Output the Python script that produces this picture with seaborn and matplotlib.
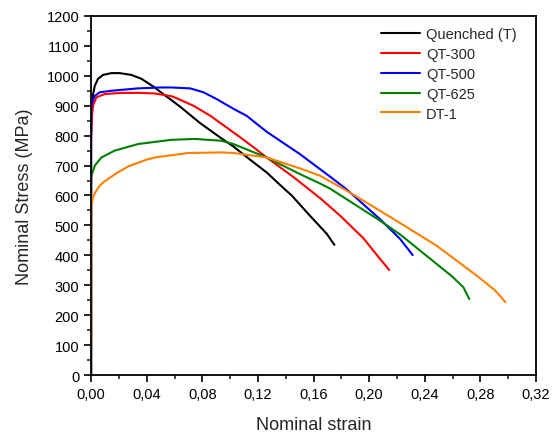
import matplotlib
matplotlib.use("Agg")
import matplotlib.pyplot as plt
from matplotlib.ticker import MultipleLocator, FixedLocator
import seaborn as sns
import pandas as pd

series_names = ["Quenched (T)", "QT-300", "QT-500", "QT-625", "DT-1"]
series_colors = ["#000000", "#ff0000", "#0000ff", "#008000", "#ff8000"]

quenched_x = [0, 0, 0.0005, 0.0015, 0.0027, 0.005, 0.0086, 0.0146, 0.0206, 0.029, 0.0362,
              0.0458, 0.0496, 0.0577, 0.064, 0.0784, 0.0928, 0.1023, 0.1143, 0.1263, 0.1383,
              0.1443, 0.1575, 0.1695, 0.175]
quenched_y = [0, 800, 890, 940, 967, 990, 1003, 1009, 1009, 1003, 990,
              961, 947, 919, 897, 842, 794, 764, 720, 677, 625,
              600, 532, 472, 435]

qt300_x = [0, 0, 0.0005, 0.0014, 0.0038, 0.0098, 0.0218, 0.035, 0.0458, 0.0577, 0.0616,
           0.0736, 0.0856, 0.1071, 0.118, 0.1263, 0.146, 0.165, 0.1719, 0.179, 0.1959,
           0.2078, 0.212, 0.2143]
qt300_y = [0, 780, 860, 900, 928, 939, 943, 943, 941, 932, 925,
           900, 867, 795, 757, 727, 660, 590, 562, 533, 457,
           388, 365, 351]

qt500_x = [0, 0, 0.0003, 0.0007, 0.0027, 0.0063, 0.0146, 0.0338, 0.0496, 0.0577, 0.0712,
           0.0808, 0.0904, 0.1023, 0.112, 0.1263, 0.150, 0.1719, 0.1839, 0.2078, 0.2222,
           0.2313]
qt500_y = [0, 860, 895, 911, 933, 945, 950, 958, 961, 961, 958,
           945, 922, 890, 866, 813, 739, 663, 620, 521, 455,
           401]

qt625_x = [0, 0, 0.0002, 0.0027, 0.0074, 0.017, 0.0338, 0.0577, 0.0746, 0.0937, 0.1023,
           0.1263, 0.150, 0.1647, 0.1719, 0.2078, 0.2222, 0.2486, 0.26, 0.2678, 0.272]
qt625_y = [0, 640, 666, 700, 727, 750, 772, 786, 789, 783, 772,
           727, 672, 640, 623, 516, 470, 371, 328, 293, 254]

dt1_x = [0, 0, 0.0014, 0.003, 0.006, 0.009, 0.0137, 0.0185, 0.0266, 0.04, 0.0458,
         0.0698, 0.0937, 0.1023, 0.1263, 0.150, 0.1647, 0.1839, 0.2078, 0.2222, 0.2486,
         0.2774, 0.29, 0.2941, 0.298]
dt1_y = [100, 560, 595, 610, 632, 645, 660, 675, 697, 720, 727,
         742, 744, 742, 727, 691, 666, 616, 549, 508, 432,
         332, 285, 265, 243]

x_ticks = [0.00, 0.04, 0.08, 0.12, 0.16, 0.20, 0.24, 0.28, 0.32]
x_tick_labels = ["0,00", "0,04", "0,08", "0,12", "0,16", "0,20", "0,24", "0,28", "0,32"]
y_ticks = list(range(0, 1201, 100))

xs = [quenched_x, qt300_x, qt500_x, qt625_x, dt1_x]
ys = [quenched_y, qt300_y, qt500_y, qt625_y, dt1_y]

frames = []
for name, x, y in zip(series_names, xs, ys):
    frames.append(pd.DataFrame({"strain": x, "stress": y, "series": name}))
df = pd.concat(frames, ignore_index=True)

sns.set_style("ticks")
plt.rcParams["font.family"] = ["Liberation Sans", "DejaVu Sans"]

fig = plt.figure(figsize=(5.52, 4.35), dpi=100)
ax = fig.add_axes([0.165, 0.1356, 0.806, 0.8254])

sns.lineplot(data=df, x="strain", y="stress", hue="series", hue_order=series_names,
             palette=series_colors, sort=False, estimator=None, units="series",
             linewidth=1.5, ax=ax)

ax.set_xlim(0, 0.32)
ax.set_ylim(0, 1200)
ax.xaxis.set_major_locator(FixedLocator(x_ticks))
ax.set_xticklabels(x_tick_labels)
ax.xaxis.set_minor_locator(MultipleLocator(0.02))
ax.yaxis.set_major_locator(FixedLocator(y_ticks))
ax.yaxis.set_minor_locator(MultipleLocator(50))
ax.tick_params(axis="both", which="major", direction="out", length=5, width=1.2,
               labelsize=10.5, colors="black")
ax.tick_params(axis="both", which="minor", direction="out", length=3, width=1.2)
ax.tick_params(top=False, right=False, which="both")
for s in ax.spines.values():
    s.set_linewidth(1.3)
    s.set_color("black")
    s.set_visible(True)

ax.set_xlabel("Nominal strain", fontsize=13, labelpad=11)
ax.set_ylabel("Nominal Stress (MPa)", fontsize=13, labelpad=10)

leg = ax.legend(loc="upper left", bbox_to_anchor=(0.638, 0.985), frameon=False,
                fontsize=10.5, handlelength=2.7, labelspacing=0.4, handletextpad=0.4,
                borderaxespad=0)

fig.savefig("out.png", dpi=100)
